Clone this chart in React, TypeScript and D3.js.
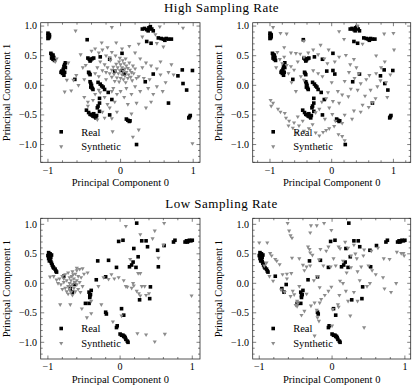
import React, { useEffect, useRef } from "react";
import * as d3 from "d3";

type Pt = [number, number];

// real samples, high sampling rate (same in both top panels)
const realHigh: Pt[] = [
  [-1.0, 0.88], [-0.99, 0.86], [-1.0, 0.84], [-0.98, 0.82], [-0.99, 0.8], [-1.0, 0.79], [-0.98, 0.85],
  [-0.96, 0.54], [-0.95, 0.52], [-0.93, 0.51], [-0.94, 0.49], [-0.92, 0.47], [-0.93, 0.44], [-0.91, 0.42], [-0.95, 0.46],
  [-0.76, 0.38], [-0.77, 0.35], [-0.78, 0.32], [-0.76, 0.3], [-0.79, 0.27], [-0.81, 0.24], [-0.82, 0.22], [-0.8, 0.2], [-0.78, 0.17], [-0.77, 0.22],
  [-0.46, 0.77], [-0.63, 0.1],
  [-0.45, 0.46], [-0.43, 0.44], [-0.41, 0.43], [-0.39, 0.45], [-0.37, 0.46], [-0.42, 0.41], [-0.28, 0.48], [-0.15, 0.44],
  [0.02, 0.54], [-0.08, 0.24], [0.02, 0.25], [0.05, 0.19],
  [-0.44, 0.22], [-0.43, 0.2], [-0.42, 0.18],
  [-0.42, 0.06], [-0.41, 0.03], [-0.4, 0.0], [-0.41, -0.03], [-0.39, -0.05], [-0.38, -0.07],
  [-0.31, 0.05], [-0.28, 0.02], [-0.26, -0.01], [-0.24, -0.03], [-0.22, -0.07],
  [-0.17, -0.12], [-0.12, -0.24], [-0.29, -0.22],
  [-0.29, -0.3], [-0.31, -0.35], [-0.32, -0.38], [-0.29, -0.44],
  [-0.47, -0.42], [-0.44, -0.46], [-0.42, -0.49], [-0.4, -0.5], [-0.38, -0.52], [-0.36, -0.53], [-0.34, -0.55], [-0.37, -0.48], [-0.33, -0.51],
  [-0.15, -0.5],
  [0.08, -0.57], [0.1, -0.59], [0.12, -0.61], [0.13, -0.6],
  [0.22, -1.0],
  [0.3, 0.95], [0.33, 0.96], [0.36, 0.94], [0.39, 0.97], [0.41, 0.99], [0.43, 0.95], [0.45, 0.92], [0.38, 0.92],
  [0.36, 0.74], [0.42, 0.71],
  [0.52, 0.8], [0.56, 0.79], [0.59, 0.78], [0.61, 0.76], [0.63, 0.79], [0.66, 0.78], [0.7, 0.78],
  [0.45, 0.19], [0.34, 0.06], [0.66, -0.3],
  [0.79, 0.16], [0.85, 0.26], [0.99, 0.25], [0.86, 0.03], [0.91, -0.08],
  [0.95, -0.53], [0.96, -0.51], [0.94, -0.55],
];

// synthetic samples, high sampling rate, left panel
const synHighA: Pt[] = [
  [-0.02, 0.4], [0.03, 0.42], [-0.06, 0.36], [0.0, 0.35], [0.05, 0.37], [0.08, 0.33], [-0.1, 0.31], [-0.04, 0.3],
  [0.02, 0.3], [0.06, 0.28], [0.1, 0.29], [0.13, 0.26], [-0.12, 0.26], [-0.07, 0.25], [-0.01, 0.25], [0.04, 0.24],
  [0.08, 0.22], [0.15, 0.22], [-0.15, 0.2], [-0.09, 0.19], [-0.03, 0.2], [0.02, 0.18], [0.06, 0.16], [0.11, 0.18],
  [0.18, 0.2], [-0.12, 0.14], [-0.05, 0.13], [0.0, 0.12], [0.04, 0.1], [0.1, 0.12], [0.14, 0.14], [-0.2, 0.1],
  [-0.08, 0.07], [-0.02, 0.06], [0.07, 0.05], [0.16, 0.08], [0.2, 0.28], [-0.18, 0.3], [0.12, 0.38], [-0.14, 0.42],
  [-0.01, 0.46], [0.07, 0.45], [0.17, 0.33], [-0.2, 0.22], [0.22, 0.12],
  [-0.3, 0.55], [-0.25, 0.6], [-0.35, 0.62], [-0.2, 0.5], [-0.15, 0.47], [-0.28, 0.4], [-0.22, 0.35], [-0.32, 0.3],
  [-0.25, 0.25], [-0.35, 0.2], [-0.3, 0.15], [-0.48, 0.34], [-0.52, 0.3], [-0.55, 0.52], [-0.4, 0.58], [-0.12, 0.56],
  [-0.18, 0.64], [-0.07, 0.5],
  [-0.62, 0.92], [-0.12, 0.98], [0.54, 0.99], [0.86, 0.97], [-0.26, 0.72], [-0.06, 0.72], [0.12, 0.66], [0.02, 0.62],
  [0.2, 0.55], [0.5, 0.71], [0.59, 0.65], [0.48, 0.86], [0.3, 0.82], [0.25, 0.7],
  [0.27, 0.45], [0.35, 0.38], [0.42, 0.33], [0.5, 0.28], [0.3, 0.3], [0.25, 0.15], [0.32, 0.12], [0.4, 0.1],
  [0.55, 0.18], [0.62, 0.05], [0.5, -0.02], [0.45, -0.15], [0.58, -0.1], [0.66, 0.22], [0.73, 0.18], [0.38, -0.05],
  [0.27, -0.1], [0.2, -0.02], [0.42, -0.28], [0.55, 0.4], [0.7, 0.35],
  [-0.9, 0.4], [-0.88, 0.45], [-0.72, 0.38], [-0.61, 0.17], [-0.74, 0.09], [-0.65, 0.09], [-0.77, -0.11], [-0.68, -0.09],
  [-0.58, 0.0], [-0.5, 0.1],
  [-0.5, -0.2], [-0.45, -0.28], [-0.35, -0.15], [-0.3, -0.08], [-0.22, -0.2], [-0.18, -0.32], [-0.25, -0.45], [-0.15, -0.38],
  [-0.08, -0.28], [-0.05, -0.15], [-0.1, -0.05], [0.0, -0.1], [0.05, -0.2], [0.1, -0.32], [0.15, -0.15], [-0.38, -0.25],
  [-0.32, -0.58], [-0.22, -0.55], [-0.05, -0.45], [0.15, -0.48], [0.22, -0.3], [-0.12, -0.56], [-0.11, -0.78], [0.25, -0.75],
  [0.17, -0.87], [0.99, -0.98], [0.35, -0.38], [-0.12, -0.1], [0.08, -0.05], [-0.28, -0.12], [-0.45, -0.35],
];

// synthetic samples, high sampling rate, right panel
const synHighB: Pt[] = [
  [-0.95, 0.98], [-0.83, 0.88], [-0.73, 0.87], [-0.45, 0.75], [-0.18, 0.68], [0.12, 0.91], [0.42, 1.0], [0.85, 0.87],
  [1.0, 0.88], [1.01, 0.6], [0.86, 0.4], [0.2, 0.78], [-0.05, 0.6], [0.5, 0.7],
  [-0.77, 0.64], [-0.66, 0.55], [-0.58, 0.54], [-0.51, 0.53], [-0.45, 0.48], [-0.77, 0.48], [-0.84, 0.44], [-0.8, 0.37],
  [-0.73, 0.34], [-0.66, 0.32], [-0.61, 0.26], [-0.5, 0.15], [-0.45, 0.09], [-0.7, 0.2], [-0.55, 0.4], [-0.38, 0.55],
  [-0.3, 0.6], [-0.22, 0.52], [-0.12, 0.45], [-0.07, 0.37], [0.05, 0.4], [0.12, 0.48], [0.23, 0.51], [0.36, 0.44],
  [0.3, 0.35], [0.4, 0.3], [-0.88, 0.56],
  [0.61, 0.17], [0.72, 0.2], [0.79, 0.08], [0.88, 0.05], [0.95, 0.18], [0.74, -0.02], [0.56, 0.1], [0.47, 0.03],
  [0.42, -0.08], [0.31, -0.06], [0.27, -0.19], [0.17, -0.16], [0.12, -0.3], [0.02, -0.27], [0.66, -0.29], [0.6, -0.37],
  [0.5, -0.33], [0.47, -0.45], [0.36, -0.43], [0.33, -0.57], [0.21, -0.5], [0.17, -0.64], [0.06, -0.6], [0.54, -0.18],
  [0.63, -0.08], [0.71, -0.22], [0.37, 0.12], [0.44, 0.2], [0.21, 0.07], [0.1, -0.1],
  [0.0, 0.05], [-0.06, -0.12], [-0.09, -0.22], [-0.16, -0.28], [-0.2, -0.4], [-0.26, -0.46], [-0.04, -0.38], [0.01, -0.49],
  [-0.11, -0.57],
  [-0.99, -0.25], [-0.95, -0.3], [-0.98, -0.35], [-0.87, -0.4], [-0.83, -0.45], [-0.76, -0.47], [-0.74, -0.55], [-0.69, -0.6],
  [-0.7, -0.68], [-0.63, -0.72], [-0.57, -0.8], [-0.53, -0.68], [-0.47, -0.6], [-0.45, -0.77], [-0.37, -0.73], [-0.31, -0.66],
  [-0.2, -0.85], [-0.14, -0.79], [-0.09, -0.76], [-0.04, -0.73], [0.04, -0.69], [0.11, -0.83], [0.17, -0.86], [0.21, -0.93],
  [-0.26, -0.8], [-0.61, -0.63], [-0.55, -0.53],
  [-0.65, 0.05], [-0.58, -0.1], [-0.9, 0.3], [-0.3, 0.25], [-0.22, 0.2], [-0.15, 0.15], [0.28, 0.22], [0.9, -0.2],
  [0.8, 0.3], [0.72, 0.5],
];

// real samples, low sampling rate (same in both bottom panels)
const realLow: Pt[] = [
  [-0.99, 0.52], [-0.98, 0.5], [-1.0, 0.47], [-0.98, 0.45], [-0.99, 0.42], [-0.97, 0.4], [-0.96, 0.37], [-0.95, 0.34],
  [-0.94, 0.31], [-0.93, 0.28], [-0.92, 0.26], [-0.9, 0.24], [-0.89, 0.21], [-0.88, 0.19], [-0.96, 0.44], [-0.95, 0.48],
  [-0.97, 0.5], [-0.98, 0.38],
  [-0.78, 0.12], [-0.69, -0.09], [-0.63, -0.02], [-0.66, -0.15],
  [-0.48, -0.34], [-0.43, -0.34],
  [-0.43, -0.15], [-0.41, -0.19], [-0.42, -0.21], [-0.4, -0.12], [-0.42, -0.24],
  [-0.33, 0.06], [-0.31, 0.38], [-0.16, 0.39], [-0.2, 0.11],
  [-0.2, -0.49], [-0.19, -0.52],
  [-0.05, 0.27],
  [-0.04, -0.72], [-0.05, -0.75],
  [0.0, -0.86], [0.02, -0.88], [0.04, -0.88], [0.05, -0.9], [0.06, -0.9], [0.07, -0.92], [0.08, -0.95], [0.1, -0.98], [0.11, -1.0],
  [0.02, -0.43], [0.05, -0.54],
  [-0.02, 0.71], [0.04, 0.73], [0.23, 1.02], [0.19, 0.59],
  [0.13, 0.28], [0.16, 0.31], [0.18, 0.36], [0.22, 0.27], [0.25, 0.45],
  [0.3, 0.72], [0.36, 0.72], [0.38, 0.62], [0.52, 0.56], [0.53, 0.28], [0.42, -0.06], [0.41, -0.26], [0.27, -0.28],
  [0.61, 0.64], [0.74, 0.7], [0.76, 0.73],
  [0.9, 0.7], [0.92, 0.72], [0.94, 0.71], [0.96, 0.73], [0.98, 0.72], [1.0, 0.73], [0.93, 0.7],
];

// synthetic samples, low sampling rate, left panel
const synLowA: Pt[] = [
  [-0.84, 0.08], [-0.8, 0.12], [-0.76, 0.15], [-0.72, 0.18], [-0.66, 0.2], [-0.6, 0.22], [-0.56, 0.24], [-0.62, 0.16],
  [-0.7, 0.1], [-0.74, 0.05], [-0.78, 0.02], [-0.82, -0.02], [-0.86, 0.0], [-0.68, 0.05], [-0.64, 0.08], [-0.58, 0.12],
  [-0.54, 0.1], [-0.5, 0.16], [-0.66, -0.02], [-0.72, -0.05], [-0.76, -0.08], [-0.7, -0.1], [-0.64, -0.08], [-0.6, -0.02],
  [-0.56, 0.02], [-0.52, -0.05], [-0.68, -0.15], [-0.62, -0.14], [-0.58, -0.1], [-0.74, -0.14], [-0.66, -0.2], [-0.8, -0.1],
  [-0.88, 0.06], [-0.92, 0.12], [-0.7, 0.0], [-0.63, 0.02], [-0.67, 0.12], [-0.6, 0.05], [-0.55, -0.15], [-0.72, -0.18],
  [-0.78, 0.08], [-0.69, -0.05], [-0.65, 0.15],
  [-0.97, 0.11], [-0.6, 0.26], [-0.52, 0.25], [-0.45, 0.18], [-0.83, -0.36], [-0.69, -0.36], [-0.53, -0.43], [-0.46, -0.58],
  [-0.4, -0.51], [-0.26, -0.36], [-0.23, 0.1], [-0.16, 0.07], [-0.08, 0.08], [-0.3, -0.05], [-0.02, 0.1], [0.02, -0.55],
  [0.1, -0.06], [0.16, -0.08], [0.19, -0.04], [0.23, -0.13], [0.28, -0.21], [0.26, -0.17], [0.34, -0.05], [0.14, 0.41],
  [0.28, 0.17], [0.53, 0.43], [0.99, -0.21], [0.24, -0.85], [0.36, -0.87], [0.48, -0.99], [0.62, -0.86], [0.08, 0.97],
  [0.28, 0.83], [0.61, 1.02], [0.48, 0.89], [0.45, 0.76], [0.6, 0.65], [0.25, 0.17], [0.18, 0.0], [0.36, -0.2],
  [0.4, -0.17], [0.08, -0.05], [-0.12, 0.15], [-0.4, -0.3], [0.05, 0.05], [0.3, -0.05], [-0.1, -0.65],
];

// synthetic samples, low sampling rate, right panel
const synLowB: Pt[] = [
  [-0.61, 1.02], [-0.29, 0.98], [-0.21, 0.98], [-0.11, 1.02], [-0.01, 0.9], [-0.3, 0.86], [-0.59, 0.89], [-0.57, 0.81],
  [-0.55, 0.77], [-1.0, 0.69], [-0.89, 0.69], [-0.85, 0.51], [-0.83, 0.47], [-0.78, 0.41], [-0.76, 0.38], [-0.68, 0.15],
  [-0.56, 0.17], [-0.62, 0.16], [-0.81, 0.04], [-0.4, 0.31], [-0.31, 0.58], [-0.33, 0.62], [-0.3, 0.52], [-0.27, 0.48],
  [-0.16, 0.58], [-0.05, 0.62], [0.09, 0.62], [0.11, 0.59], [0.22, 0.6], [0.26, 0.47], [0.32, 0.5], [0.34, 0.42],
  [0.43, 0.47], [0.44, 0.57], [0.63, 0.6], [0.71, 0.42], [0.79, 0.41], [0.89, 0.53], [0.95, 0.51], [0.98, 0.51],
  [0.99, 0.47], [0.7, 0.1], [0.72, -0.09], [0.81, -0.15], [0.44, -0.75], [-0.01, -0.06], [-0.17, -0.07], [-0.54, -0.13],
  [-0.52, -0.19], [-0.57, -0.22], [-0.48, -0.3], [-0.47, -0.34], [-0.5, -0.37], [-0.48, -0.39], [-0.42, -0.54], [-0.38, -0.47],
  [-0.29, -0.38], [-0.24, -0.33], [-0.17, -0.33], [-0.15, -0.27], [-0.2, -0.58], [-0.18, -0.64], [-0.21, -0.45], [0.01, -0.44],
  [0.08, -0.36], [0.19, -0.13], [0.09, -0.4], [0.25, -0.55], [-0.24, -0.89], [-0.7, -0.11], [-0.65, -0.15], [-0.05, -0.13],
  [0.26, 0.27], [0.11, 0.04], [-0.2, 0.12], [-0.25, 0.05], [-0.35, 0.28], [-0.3, 0.3], [-0.45, 0.42], [-0.55, 0.43],
  [-0.38, 0.22], [-0.12, 0.3], [-0.02, 0.28], [0.05, 0.3], [0.15, 0.38], [0.2, 0.18], [0.35, 0.2], [0.4, 0.28],
  [0.5, 0.3], [0.55, 0.22], [0.6, 0.15], [0.15, 0.0], [0.3, -0.15], [0.35, -0.3], [0.22, -0.3], [0.1, -0.2],
  [-0.1, -0.2], [-0.08, 0.55], [0.02, 0.42], [-0.18, 0.4], [-0.72, 0.32], [-0.9, 0.35], [-0.93, 0.3], [0.54, 0.55],
  [0.3, 0.65], [0.18, 0.7], [-0.45, -0.05], [-0.35, -0.18], [0.0, -0.72], [0.48, -0.05], [0.52, 0.0], [0.88, 0.0],
  [0.38, 0.05], [-0.62, 0.08], [-0.86, 0.12],
];

const titles = ["High Sampling Rate", "Low Sampling Rate"];
const legendLabels = ["Real", "Synthetic"];
const xLabel = "Principal Component 0";
const yLabel = "Principal Component 1";
const xTicks = [-1, 0, 1];
const yTicks = [-1, -0.5, 0, 0.5, 1];

const W = 415;
const H = 388;
const FONT = "Liberation Serif, Times New Roman, serif";
const GRAY = "#8c8c8c";
const AX = "#2a2a2a";

const panels = [
  { l: 40.7, r: 200, t: 22.7, b: 162.3, xd: [-1.1, 1.094], yd: [-1.3, 1.057], real: realHigh, syn: synHighA },
  { l: 252.7, r: 410.7, t: 22.7, b: 162.3, xd: [-1.28, 1.28], yd: [-1.3, 1.057], real: realHigh, syn: synHighB },
  { l: 40.7, r: 200, t: 218.3, b: 359, xd: [-1.1, 1.107], yd: [-1.283, 1.102], real: realLow, syn: synLowA },
  { l: 252.7, r: 410.7, t: 218.3, b: 359, xd: [-1.09, 1.08], yd: [-1.283, 1.102], real: realLow, syn: synLowB },
];

const fmt = (v: number, digits: number) => {
  const s = Math.abs(v).toFixed(digits);
  return v < 0 ? "\u2212" + s : s;
};

const tri = d3.symbol().type(d3.symbolTriangle).size(7.5)();
const SQ = 3.6;

function drawPanel(svg: any, p: any) {
  const x = d3.scaleLinear().domain(p.xd).range([p.l, p.r]);
  const y = d3.scaleLinear().domain(p.yd).range([p.b, p.t]);
  const g = svg.append("g");

  // data
  g.selectAll(".real")
    .data(p.real)
    .enter()
    .append("rect")
    .attr("x", (d: Pt) => x(d[0]) - SQ / 2)
    .attr("y", (d: Pt) => y(d[1]) - SQ / 2)
    .attr("width", SQ)
    .attr("height", SQ)
    .attr("fill", "black");
  g.selectAll(".syn")
    .data(p.syn)
    .enter()
    .append("path")
    .attr("d", tri)
    .attr("transform", (d: Pt) => `translate(${x(d[0])},${y(d[1])}) rotate(180)`)
    .attr("fill", GRAY);

  // ticks, inward on every side
  const minorX: number[] = [];
  for (let k = Math.ceil(p.xd[0] * 5); k <= Math.floor(p.xd[1] * 5); k++) if (k % 5 !== 0) minorX.push(k / 5);
  const minorY: number[] = [];
  for (let k = Math.ceil(p.yd[0] * 10); k <= Math.floor(p.yd[1] * 10); k++) if (k % 5 !== 0) minorY.push(k / 10);

  const tk = g.append("g").attr("stroke", AX).attr("stroke-width", 0.6);
  const xt = (vals: number[], len: number) =>
    vals.forEach((v) => {
      tk.append("line").attr("x1", x(v)).attr("x2", x(v)).attr("y1", p.b).attr("y2", p.b - len);
      tk.append("line").attr("x1", x(v)).attr("x2", x(v)).attr("y1", p.t).attr("y2", p.t + len);
    });
  const yt = (vals: number[], len: number) =>
    vals.forEach((v) => {
      tk.append("line").attr("y1", y(v)).attr("y2", y(v)).attr("x1", p.l).attr("x2", p.l + len);
      tk.append("line").attr("y1", y(v)).attr("y2", y(v)).attr("x1", p.r).attr("x2", p.r - len);
    });
  xt(xTicks, 3.5);
  xt(minorX, 2);
  yt(yTicks, 3.5);
  yt(minorY, 2);

  g.append("rect")
    .attr("x", p.l).attr("y", p.t)
    .attr("width", p.r - p.l).attr("height", p.b - p.t)
    .attr("fill", "none").attr("stroke", AX).attr("stroke-width", 0.8);

  // tick labels
  g.selectAll(".xl")
    .data(xTicks)
    .enter()
    .append("text")
    .attr("x", (d: number) => x(d))
    .attr("y", p.b + 11.3)
    .attr("text-anchor", "middle")
    .attr("font-family", FONT)
    .attr("font-size", 10)
    .text((d: number) => fmt(d, 0));
  g.selectAll(".yl")
    .data(yTicks)
    .enter()
    .append("text")
    .attr("x", p.l - 3.6)
    .attr("y", (d: number) => y(d) + 3.4)
    .attr("text-anchor", "end")
    .attr("font-family", FONT)
    .attr("font-size", 10)
    .text((d: number) => fmt(d, 1));

  // axis labels
  g.append("text")
    .attr("x", (p.l + p.r) / 2)
    .attr("y", p.b + 23.5)
    .attr("text-anchor", "middle")
    .attr("font-family", FONT)
    .attr("font-size", 10.5)
    .text(xLabel);
  g.append("text")
    .attr("transform", `translate(${p.l - 30.7},${(p.t + p.b) / 2}) rotate(-90)`)
    .attr("text-anchor", "middle")
    .attr("font-family", FONT)
    .attr("font-size", 10.5)
    .text(yLabel);

  // legend
  const lx = p.l + 20.5;
  const ly = [p.b - 30.5, p.b - 15.8];
  g.append("rect").attr("x", lx - SQ / 2).attr("y", ly[0] - SQ / 2).attr("width", SQ).attr("height", SQ).attr("fill", "black");
  g.append("path").attr("d", tri).attr("transform", `translate(${lx},${ly[1]}) rotate(180)`).attr("fill", GRAY);
  legendLabels.forEach((s, i) => {
    g.append("text")
      .attr("x", p.l + 40.5)
      .attr("y", ly[i] + 3.7)
      .attr("font-family", FONT)
      .attr("font-size", 10.5)
      .text(s);
  });
}

export default function App() {
  const ref = useRef<SVGSVGElement>(null);

  useEffect(() => {
    const svg = d3.select(ref.current);
    svg.selectAll("*").remove();
    svg.append("rect").attr("width", W).attr("height", H).attr("fill", "white");

    [12.3, 208].forEach((ty, i) => {
      svg.append("text")
        .attr("x", 221.5)
        .attr("y", ty)
        .attr("text-anchor", "middle")
        .attr("font-family", FONT)
        .attr("font-size", 13)
        .attr("letter-spacing", 0.5)
        .text(titles[i]);
    });

    panels.forEach((p) => drawPanel(svg, p));
  }, []);

  return (
    <svg
      ref={ref}
      width={W}
      height={H}
      style={{ position: "absolute", left: 0, top: 0, display: "block" }}
    />
  );
}
